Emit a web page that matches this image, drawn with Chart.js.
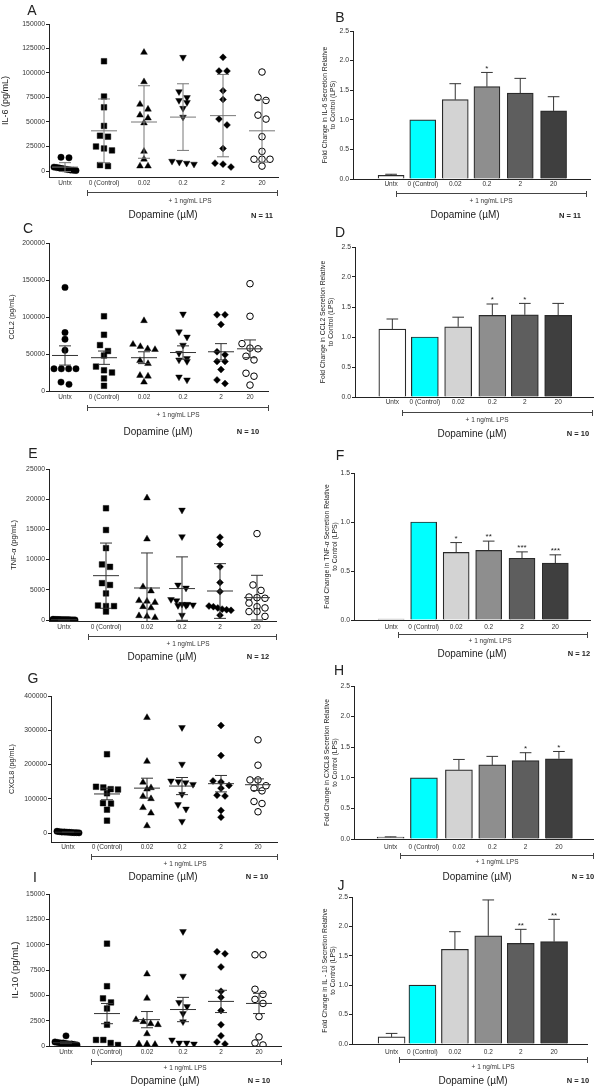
<!DOCTYPE html>
<html><head><meta charset="utf-8"><title>Dopamine and LPS-induced cytokine secretion</title>
<script src="https://cdn.jsdelivr.net/npm/chart.js@4.4.1/dist/chart.umd.min.js"></script>
<style>
html,body{margin:0;padding:0;background:#fff}
body{position:relative;width:600px;height:1087px;overflow:hidden;font-family:"Liberation Sans",Arial,sans-serif;color:#222}
canvas{position:absolute}
.t{position:absolute;white-space:nowrap;transform:translate(-50%,-50%);line-height:1}
.br{position:absolute;height:0;border-top:1px solid #444}
.br::before,.br::after{content:"";position:absolute;top:-3px;width:1px;height:6px;background:#444}
.br::before{left:0}.br::after{right:-1px}
</style></head><body>
<script>
// ---------------- DATA ----------------
const categories = ['Untx', '0 (Control)', '0.02', '0.2', '2', '20'];

// A: IL-6 (pg/mL), N = 11
const A_untx = [14000, 13500, 4000, 3500, 3000, 2500, 2000, 1500, 1000, 800, 500];
const A_ctrl = [112000, 76000, 65000, 46000, 36000, 35000, 25000, 23000, 21000, 6000, 5000];
const A_d002 = [121000, 91000, 68000, 63000, 57000, 54000, 49000, 20000, 12000, 5000, 5000];
const A_d02  = [116000, 81000, 75000, 72000, 70000, 64000, 55000, 10000, 9000, 8000, 7000];
const A_d2   = [116000, 102000, 102000, 82000, 73000, 53000, 47000, 23000, 8000, 7000, 4000];
const A_d20  = [101000, 75000, 72000, 57000, 53000, 35000, 20000, 12000, 12000, 12000, 5000];
const A_mean = [4000, 41000, 50000, 55000, 56500, 41000];
const A_err  = [4500, 32500, 37000, 34000, 42000, 32000];
const A_ticks = [0, 25000, 50000, 75000, 100000, 125000, 150000];

// B: fold change IL-6, N = 11
const B_mean = [0.06, 1.0, 1.34, 1.56, 1.45, 1.15];
const B_err  = [0.02, 0, 0.27, 0.24, 0.25, 0.24];
const B_sig  = ['', '', '', '*', '', ''];

// C: CCL2 (pg/mL), N = 10
const C_untx = [140000, 79000, 70000, 55000, 30000, 30000, 30000, 30000, 12000, 9000];
const C_ctrl = [101000, 76000, 62000, 54000, 48000, 33000, 28000, 25000, 17000, 7000];
const C_d002 = [95000, 63000, 60000, 57000, 56000, 41000, 37000, 21000, 20000, 12000];
const C_d02  = [104000, 80000, 73000, 62000, 51000, 44000, 42000, 40000, 19000, 15000];
const C_d2   = [103000, 103000, 90000, 53000, 49000, 40000, 40000, 29000, 15000, 10000];
const C_d20  = [145000, 101000, 64000, 58000, 57000, 47000, 42000, 24000, 20000, 8000];
const C_mean = [48000, 45000, 45000, 52000, 53000, 57000];
const C_err  = [13000, 9000, 8000, 9000, 11000, 12000];
const C_ticks = [0, 50000, 100000, 150000, 200000];

// D: fold change CCL2, N = 10
const D_mean = [1.13, 1.0, 1.17, 1.36, 1.37, 1.36];
const D_err  = [0.17, 0, 0.16, 0.19, 0.19, 0.20];
const D_sig  = ['', '', '', '*', '*', ''];

// E: TNF-alpha (pg/mL), N = 12
const E_untx = [120, 100, 90, 80, 70, 60, 50, 40, 30, 20, 10, 5];
const E_ctrl = [18500, 14900, 11900, 9200, 8800, 6100, 5800, 4400, 2400, 2300, 2300, 1400];
const E_d002 = [20200, 13400, 5500, 4800, 3200, 3100, 2900, 2200, 2000, 700, 600, 400];
const E_d02  = [18200, 13800, 5800, 5300, 3400, 3200, 2600, 2600, 2500, 2400, 2400, 800];
const E_d2   = [13700, 12500, 8800, 6200, 4700, 2300, 2200, 2000, 1800, 1700, 1600, 800];
const E_d20  = [14300, 5800, 4900, 3800, 3700, 3600, 2800, 2200, 2000, 1400, 1400, 600];
const E_mean = [50, 7340, 5300, 5200, 4800, 3700];
const E_err  = [40, 5400, 5800, 5250, 4530, 3700];
const E_ticks = [0, 5000, 10000, 15000, 20000, 25000];

// F: fold change TNF-alpha, N = 12
const F_mean = [0.01, 1.0, 0.69, 0.71, 0.63, 0.58];
const F_err  = [0, 0, 0.10, 0.095, 0.065, 0.085];
const F_sig  = ['', '', '*', '**', '***', '***'];

// G: CXCL8 (pg/mL), N = 10
const G_untx = [5000, 4000, 3000, 3000, 2500, 2000, 1500, 1000, 1000, 500];
const G_ctrl = [230000, 135000, 133000, 128000, 127000, 116000, 87000, 86000, 68000, 36000];
const G_d002 = [337000, 209000, 148000, 132000, 128000, 107000, 100000, 74000, 58000, 21000];
const G_d02  = [308000, 201000, 152000, 150000, 147000, 142000, 113000, 83000, 70000, 34000];
const G_d2   = [314000, 226000, 152000, 149000, 139000, 131000, 110000, 108000, 66000, 46000];
const G_d20  = [272000, 198000, 155000, 155000, 138000, 131000, 123000, 92000, 86000, 62000];
const G_mean = [2400, 114000, 131000, 137000, 144000, 141000];
const G_err  = [500, 17000, 29000, 25000, 24000, 17000];
const G_ticks = [0, 100000, 200000, 300000, 400000];

// H: fold change CXCL8, N = 10
const H_mean = [0.03, 1.0, 1.13, 1.21, 1.28, 1.31];
const H_err  = [0.005, 0, 0.17, 0.14, 0.13, 0.12];
const H_sig  = ['', '', '', '', '*', '*'];

// I: IL-10 (pg/mL), N = 10
const I_untx = [1000, 400, 350, 300, 300, 250, 200, 200, 150, 100];
const I_ctrl = [10100, 5900, 4700, 4300, 3700, 2100, 600, 600, 300, 100];
const I_d002 = [7100, 4700, 2600, 2400, 2200, 2100, 1200, 200, 200, 150];
const I_d02  = [11300, 6900, 4300, 3900, 3200, 2400, 600, 300, 300, 200];
const I_d2   = [9300, 9100, 7800, 5400, 4800, 3500, 2100, 1000, 400, 200];
const I_d20  = [9000, 9000, 5600, 5100, 4600, 4200, 2900, 900, 300, 100];
const I_mean = [325, 3200, 2600, 3600, 4400, 4200];
const I_err  = [90, 1000, 800, 1200, 1100, 1000];
const I_ticks = [0, 2500, 5000, 7500, 10000, 12500, 15000];

// J: fold change IL-10, N = 10
const J_mean = [0.12, 1.0, 1.61, 1.84, 1.71, 1.74];
const J_err  = [0.06, 0, 0.30, 0.61, 0.24, 0.38];
const J_sig  = ['', '', '', '', '**', '**'];

const fold_ticks = [0, 0.5, 1.0, 1.5, 2.0, 2.5];
const F_ticks = [0, 0.5, 1.0, 1.5];
const sampleN = { A: 11, B: 11, C: 10, D: 10, E: 12, F: 12, G: 10, H: 10, I: 10, J: 10 };

// ---------------- STYLE / LAYOUT ----------------
const FONT = '"Liberation Sans", Arial, Helvetica, sans-serif';
Chart.defaults.font.family = FONT;
Chart.defaults.color = '#333';
const TP = 12, XH = 22, XFS = 6.5;
const markers = [
  { style: 'circle',   r: 3.2, fill: '#000', rot: 0 },
  { style: 'rect',     r: 4.0, fill: '#000', rot: 0 },
  { style: 'triangle', r: 3.9, fill: '#000', rot: 0 },
  { style: 'triangle', r: 3.9, fill: '#000', rot: 180 },
  { style: 'rectRot',  r: 3.5, fill: '#000', rot: 0 },
  { style: 'circle',   r: 3.3, fill: '#fff', rot: 0 }
];
const barFills = ['#ffffff', '#00ffff', '#d3d3d3', '#8e8e8e', '#5e5e5e', '#3f3f3f'];

const scatterPanels = [
  { id: 'A', col: 0, L: 49, R: 278, T: 24, Z: 171, B: 177, ymax: 150000, ticks: A_ticks, groups: [A_untx, A_ctrl, A_d002, A_d02, A_d2, A_d20], mean: A_mean, err: A_err,
    cx: [65, 104, 144, 183, 223, 262], title: 'IL-6 (pg/mL)', tSize: 9, tX: 6, labelY: 183, lineColor: '#777' },
  { id: 'C', col: 0, L: 49, R: 268, T: 243, Z: 391, B: 391, ymax: 200000, ticks: C_ticks, groups: [C_untx, C_ctrl, C_d002, C_d02, C_d2, C_d20], mean: C_mean, err: C_err,
    cx: [65, 104, 144, 183, 221, 250], title: 'CCL2 (pg/mL)', tSize: 7.2, tX: 12, labelY: 397, lineColor: '#333' },
  { id: 'E', col: 0, L: 49, R: 276, T: 469, Z: 620, B: 621, ymax: 25000, ticks: E_ticks, groups: [E_untx, E_ctrl, E_d002, E_d02, E_d2, E_d20], mean: E_mean, err: E_err,
    cx: [64, 106, 147, 182, 220, 257], title: 'TNF-α (pg/mL)', tSize: 7.6, tX: 13.5, labelY: 627, lineColor: '#333' },
  { id: 'G', col: 0, L: 51, R: 277, T: 696, Z: 833, B: 842, ymax: 400000, ticks: G_ticks, groups: [G_untx, G_ctrl, G_d002, G_d02, G_d2, G_d20], mean: G_mean, err: G_err,
    cx: [68, 107, 147, 182, 221, 258], title: 'CXCL8 (pg/mL)', tSize: 7.2, tX: 12.5, labelY: 847, lineColor: '#333' },
  { id: 'I', col: 0, L: 49, R: 281, T: 894, Z: 1046, B: 1046, ymax: 15000, ticks: I_ticks, groups: [I_untx, I_ctrl, I_d002, I_d02, I_d2, I_d20], mean: I_mean, err: I_err,
    cx: [66, 107, 147, 183, 221, 259], title: 'IL-10 (pg/mL)', tSize: 9.5, tX: 15, labelY: 1052, lineColor: '#333' }
];

const barPanels = [
  { id: 'B', col: 300, L: 353, R: 590, T: 31, B: 179, ymax: 2.5, ticks: fold_ticks, mean: B_mean, err: B_err, sig: B_sig, bw: 26,
    cx: [375, 413, 452, 490, 530, 570], title: ['Fold Change in IL-6 Secretion Relative', 'to Control (LPS)'], tX: 325, labelY: 184 },
  { id: 'D', col: 300, L: 355, R: 593, T: 247, B: 397, ymax: 2.5, ticks: fold_ticks, mean: D_mean, err: D_err, sig: D_sig, bw: 27,
    cx: [376, 415, 455, 496, 535, 575], title: ['Fold Change in CCL2 Secretion Relative', 'to Control (LPS)'], tX: 323.5, labelY: 402 },
  { id: 'F', col: 300, L: 354, R: 590, T: 473, B: 620, ymax: 1.5, ticks: F_ticks, mean: F_mean, err: F_err, sig: F_sig, bw: 26,
    cx: [375, 414, 453, 492, 532, 572], title: ['Fold Change in TNF-α Secretion Relative', 'to Control (LPS)'], tX: 327, labelY: 627 },
  { id: 'H', col: 300, L: 354, R: 593, T: 686, B: 839, ymax: 2.5, ticks: fold_ticks, mean: H_mean, err: H_err, sig: H_sig, bw: 27,
    cx: [374, 414, 456, 496, 536, 576], title: ['Fold Change in CXCL8 Secretion Relative', 'to Control (LPS)'], tX: 327, labelY: 847 },
  { id: 'J', col: 300, L: 352, R: 587, T: 897, B: 1044, ymax: 2.5, ticks: fold_ticks, mean: J_mean, err: J_err, sig: J_sig, bw: 27,
    cx: [376, 413, 452, 492, 531, 571], title: ['Fold Change in IL - 10 Secretion Relative', 'to Control (LPS)'], tX: 325, labelY: 1052 }
];

const annotations = [
  { id: 'A', letter: [32, 10],  br: [192, 87, 277],  lps: [190, 201],  dop: [163, 215],  n: [262, 216] },
  { id: 'B', letter: [340, 17], br: [193, 396, 586], lps: [491, 201],  dop: [465, 215],  n: [570, 216] },
  { id: 'C', letter: [28, 228], br: [407, 87, 268],  lps: [178, 415],  dop: [158, 432],  n: [248, 432] },
  { id: 'D', letter: [340, 232],br: [412, 402, 592], lps: [487, 420],  dop: [472, 434],  n: [578, 434] },
  { id: 'E', letter: [33, 453], br: [636, 88, 276],  lps: [188, 644],  dop: [162, 657],  n: [258, 657] },
  { id: 'F', letter: [340, 455],br: [634, 398, 587], lps: [490, 641],  dop: [472, 654],  n: [579, 654] },
  { id: 'G', letter: [33, 678], br: [856, 91, 277],  lps: [185, 864],  dop: [163, 877],  n: [257, 877] },
  { id: 'H', letter: [339, 670],br: [855, 400, 593], lps: [497, 862],  dop: [477, 877],  n: [583, 877] },
  { id: 'I', letter: [35, 877], br: [1061, 91, 281], lps: [185, 1068], dop: [165, 1081], n: [259, 1081] },
  { id: 'J', letter: [341, 885],br: [1059, 399, 587],lps: [493, 1067], dop: [473, 1081], n: [578, 1081] }
];

// ---------------- HELPERS ----------------
function makeCanvas(p) {
  const c = document.createElement('canvas');
  c.width = 300; c.height = p.B - p.T + TP + XH;
  c.style.left = p.col + 'px'; c.style.top = (p.T - TP) + 'px';
  c.style.width = '300px'; c.style.height = c.height + 'px';
  document.body.appendChild(c);
  return c;
}

function scalesFor(p, ymin, yFmt, title, tSize, tLH, tX) {
  const pt = Math.max(0, tX - p.col - tSize * tLH / 2);
  return {
    x: {
      type: 'linear', min: p.L, max: p.R,
      afterBuildTicks: s => { s.ticks = p.cx.map(v => ({ value: v })); },
      afterFit: s => { s.height = XH; },
      grid: { display: false, drawTicks: false },
      border: { display: true, color: '#222', width: 1 },
      ticks: { autoSkip: false, maxRotation: 0, minRotation: 0, padding: p.labelY - p.B - 0.6 * XFS,
               font: { size: XFS }, color: '#333', callback: (v, i) => categories[i] }
    },
    y: {
      type: 'linear', min: ymin, max: p.ymax,
      afterBuildTicks: s => { s.ticks = p.ticks.map(v => ({ value: v })); },
      afterFit: s => { s.width = p.L - p.col; },
      grid: { display: true, drawOnChartArea: false, drawTicks: true, tickLength: 3, color: '#222', lineWidth: 1 },
      border: { display: true, color: '#222', width: 1 },
      ticks: { padding: 1, font: { size: 6.8 }, color: '#333', callback: yFmt },
      title: { display: true, text: title, color: '#222', font: { size: tSize, lineHeight: tLH }, padding: { top: pt, bottom: 0 } }
    }
  };
}

// row-based beeswarm (GraphPad-like): points with close y share a row, centred on the category
function swarm(vals, toPx, hStep, vGap, maxHalf) {
  const idx = vals.map((v, i) => i).sort((a, b) => vals[b] - vals[a]);
  const offs = new Array(vals.length).fill(0);
  let row = [], y0 = null;
  const flush = () => {
    const n = row.length;
    const step = n > 1 ? Math.min(hStep, 2 * maxHalf / (n - 1)) : 0;
    row.forEach((k, j) => { offs[k] = (j - (n - 1) / 2) * step; });
    row = [];
  };
  for (const k of idx) {
    const y = toPx(vals[k]);
    if (y0 === null || Math.abs(y - y0) >= vGap) { flush(); y0 = y; }
    row.push(k);
  }
  flush();
  return offs;
}

const baseOpts = {
  responsive: false, animation: false, devicePixelRatio: 1, events: [],
  plugins: { legend: { display: false }, tooltip: { enabled: false } }
};

// ---------------- SCATTER PANELS ----------------
scatterPanels.forEach(p => {
  const ymin = p.Z === p.B ? 0 : -(p.B - p.Z) / (p.Z - p.T) * p.ymax;
  const toPx = v => p.B - (v - ymin) / (p.ymax - ymin) * (p.B - p.T);
  const datasets = p.groups.map((vals, g) => {
    const m = markers[g];
    const offs = swarm(vals, toPx, 8, 6, 11);
    return {
      type: 'scatter',
      data: vals.map((v, k) => ({ x: p.cx[g] + offs[k], y: v })),
      pointStyle: m.style, pointRadius: m.r, pointRotation: m.rot,
      pointBackgroundColor: m.fill, pointBorderColor: '#000',
      pointBorderWidth: m.fill === '#fff' ? 1 : 0.4, showLine: false, order: 2
    };
  });
  const seg = [];
  p.mean.forEach((m, g) => {
    const x = p.cx[g], e = p.err[g];
    seg.push({ x: x - 13, y: m }, { x: x + 13, y: m }, { x: x, y: null });
    seg.push({ x: x, y: m - e }, { x: x, y: m + e }, { x: x, y: null });
    seg.push({ x: x - 6, y: m + e }, { x: x + 6, y: m + e }, { x: x, y: null });
    seg.push({ x: x - 6, y: m - e }, { x: x + 6, y: m - e }, { x: x, y: null });
  });
  datasets.push({ type: 'line', data: seg, borderColor: p.lineColor, borderWidth: 1, pointRadius: 0,
                  spanGaps: false, fill: false, order: 0 });
  new Chart(makeCanvas(p), {
    type: 'scatter',
    data: { datasets },
    options: Object.assign({}, baseOpts, {
      layout: { padding: { left: 0, top: TP, bottom: 0, right: p.col + 300 - p.R } },
      scales: scalesFor(p, ymin, v => String(v), p.title, p.tSize, 1.1, p.tX)
    })
  });
});

// ---------------- BAR PANELS ----------------
barPanels.forEach(p => {
  const errSeg = [];
  p.mean.forEach((m, i) => {
    const e = p.err[i];
    if (!e) return;
    const x = p.cx[i];
    errSeg.push({ x: x, y: m }, { x: x, y: m + e }, { x: x, y: null });
    errSeg.push({ x: x - 7, y: m + e }, { x: x + 7, y: m + e }, { x: x, y: null });
  });
  const sigPlugin = {
    id: 'sig' + p.id,
    afterDatasetsDraw(chart) {
      const ctx = chart.ctx, xs = chart.scales.x, ys = chart.scales.y;
      ctx.save();
      ctx.font = '8px ' + FONT; ctx.fillStyle = '#222';
      ctx.textAlign = 'center'; ctx.textBaseline = 'middle';
      p.sig.forEach((s, i) => {
        if (!s) return;
        ctx.fillText(s, xs.getPixelForValue(p.cx[i]), ys.getPixelForValue(p.mean[i] + p.err[i]) - 4);
      });
      ctx.restore();
    }
  };
  new Chart(makeCanvas(p), {
    type: 'bar',
    data: { datasets: [
      { type: 'bar', data: p.mean.map((m, i) => ({ x: p.cx[i], y: m })), backgroundColor: barFills,
        borderColor: '#2a2a2a', borderWidth: 1.2, barThickness: p.bw, order: 1 },
      { type: 'line', data: errSeg, borderColor: '#333', borderWidth: 1, pointRadius: 0, spanGaps: false, fill: false, order: 0 }
    ] },
    options: Object.assign({}, baseOpts, {
      layout: { padding: { left: 0, top: TP, bottom: 0, right: p.col + 300 - p.R } },
      scales: scalesFor(p, 0, v => Number(v).toFixed(1), p.title, 6.8, 1.18, p.tX)
    }),
    plugins: [sigPlugin]
  });
});

// ---------------- TEXT ANNOTATIONS ----------------
function addText(txt, x, y, size, extra) {
  const d = document.createElement('div');
  d.className = 't';
  d.textContent = txt;
  d.style.left = x + 'px'; d.style.top = y + 'px'; d.style.fontSize = size + 'px';
  if (extra) Object.assign(d.style, extra);
  document.body.appendChild(d);
}
annotations.forEach(a => {
  addText(a.id, a.letter[0], a.letter[1], 14);
  const b = document.createElement('div');
  b.className = 'br';
  b.style.top = a.br[0] + 'px'; b.style.left = a.br[1] + 'px'; b.style.width = (a.br[2] - a.br[1]) + 'px';
  document.body.appendChild(b);
  addText('+ 1 ng/mL LPS', a.lps[0], a.lps[1], 6.5, { color: '#333' });
  addText('Dopamine (µM)', a.dop[0], a.dop[1], 10);
  addText('N = ' + sampleN[a.id], a.n[0], a.n[1], 7.5, { fontWeight: 'bold' });
});
</script>
</body></html>
